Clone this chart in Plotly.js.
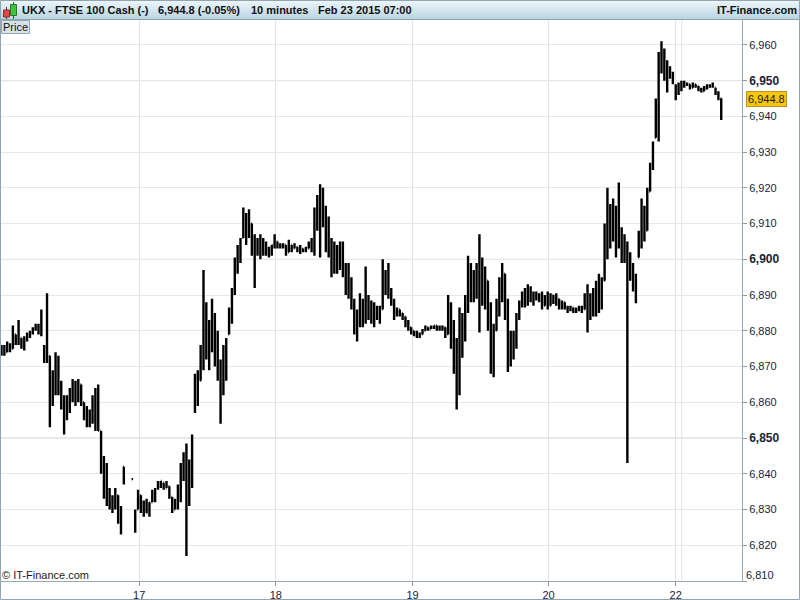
<!DOCTYPE html>
<html>
<head>
<meta charset="utf-8">
<script src="https://cdn.plot.ly/plotly-3.0.1.min.js"></script>
<style>
html,body{margin:0;padding:0;background:#fff;}
#chart{width:800px;height:600px;}
</style>
</head>
<body>
<div id="chart"></div>
<script>
// ---- Data: 30-minute OHLC bars, FTSE 100 Cash (UKX), Feb 16 - Feb 23 2015 ----
const low = [
6873,6873,6874,6874,6875,6876,6876,6875,6874.5,6877,6878,6879,6880,6879,6878.5,6871,6871,6853,6859,6862,6862,6858,6851,6855,6857,6860,6859,6860,6859,6855,6853,6853,6854,6852,6852,6840,6833,6831,6830,6829,6830,6826,6823,6837,null,null,6838.5,6823.5,
6830,6829,6828,6829,6828,6832,6832,6835.5,6836,6835.5,6836,6833,6829,6830,6830,6832,6838,6817,6831,6836,6857,6859,6866,6869,6872,6869,6874,6870,6866,6854,6862,6866,6879,6882,6890,6896,6899,6906,6904,6906,6901,6892,6901,6900,6901,6901,6900.5,6901,
6903,6903,6903,6903,6901,6902,6902,6903,6902,6901.5,6902,6902,6903,6902,6901,6908,6900.5,6909,6902,6900.5,6895,6896,6896,6897,6895,6890,6889,6886,6879,6877,6881,6881,6882,6883,6882,6881,6883,6882,6886,6890,6889,6887,6883,6884,6884,6883,6881,6880,
6879,6878.5,6878,6878,6879,6880,6880,6880.5,6880.5,6880,6880,6880,6878,6879,6875,6868,6858,6862,6872.5,6877,6885,6888,6888,6889,6879.5,6887,6886,6880,6868,6867,6880,6884,6888,6883,6868.5,6870,6872,6875,6883,6886.5,6886.5,6887,6888,6887,6888.5,6888,6886,6887,
6886,6887,6887.5,6887,6886,6886,6886,6885,6885.5,6885,6885,6885.5,6885,6886,6879.5,6883,6884,6884,6885,6886,6894,6900,6903,6905,6900.5,6903,6899,6899,6843,6894,6891,6887.7,6900.5,6903,6905,6908,6919,6925,6934,6933,6952,6950,6946.7,6950.5,6949,
6944.5,6946,6947,6948,6948.5,6947.5,6948,6948,6947,6946.7,6947,6947.5,6948,6948,6946,6944.5,6939
];
const high = [
6876,6876,6877,6876.5,6881.5,6879,6883,6878,6878.5,6879.5,6880,6881,6882,6882,6886,6876,6890.5,6873,6869,6874,6873,6866,6862,6862,6864,6866.5,6866,6866.5,6865,6860,6859,6858,6862,6864,6865,6852,6845,6843,6836,6834,6836,6834,6831,6842,null,null,6838.5,6830,
6835.5,6834,6832.5,6833,6832,6835.5,6836,6838,6838,6837.5,6838,6836.5,6833.5,6833,6837,6843,6846,6848.5,6844,6851,6868,6869,6876,6897,6888,6883,6889,6885,6880,6872,6876,6878,6886.5,6892,6900.5,6904,6906,6914.5,6913,6914,6910,6907,6906,6907,6906,6905,6903.5,6904,
6907,6905,6904.5,6904.5,6904,6905.5,6904,6904.5,6903.5,6904,6903,6903.5,6905,6906,6914.5,6918,6921,6920,6915,6912,6906,6905,6904,6905,6905,6899,6899,6895,6889,6886,6890.5,6889,6898,6890,6888.5,6888,6887,6887,6900,6897,6899,6892,6889,6886.5,6886,6885,6884,6883,
6881,6880,6880,6879.5,6880.5,6881.5,6881,6881.5,6881.5,6881.5,6881.5,6881.5,6881,6890,6888,6883,6878,6886.5,6885,6890,6901,6899,6897,6899,6907,6900.5,6898,6894,6888,6882,6889,6895,6899,6896,6889,6880,6880,6885,6888.5,6891,6892,6893,6892.5,6891,6891,6890.5,6891,6890,
6891,6890.5,6890,6890.5,6889,6888.5,6888,6887,6887,6886.5,6886.5,6887,6887,6890.5,6893,6890.5,6892,6894,6896,6895,6910,6920,6915.5,6917,6915,6921.5,6909,6907,6905,6902,6899,6896,6908,6917,6915,6920,6927,6933,6945,6958,6961,6959,6955.7,6954,6952.5,
6949,6949.5,6950,6950,6949.5,6949,6949.5,6949,6948.5,6948,6948.5,6949,6949,6949.5,6948,6947,6945
];
const open = [
6874,6875,6874,6876,6875,6879,6877,6878,6876,6878,6879,6879.5,6880.5,6881,6880,6875,6872,6873,6862,6866,6870,6864,6860,6858,6860,6862,6864,6861,6865,6860,6857,6855,6857,6860,6856,6852,6843,6836,6833,6832,6831,6834,6828,6842,null,null,6838.5,6824,
6830,6834,6830,6831,6829,6832,6835,6836,6837,6837.5,6836,6836.5,6833.5,6830,6832,6836,6840,6844,6835,6842,6858,6865,6866,6874,6878,6876,6880,6884,6872,6868,6866,6874,6879,6885,6891,6898,6902,6906,6911,6908,6910,6903,6904,6902,6905,6903,6902,6903,
6904,6905,6904,6903.5,6904,6902,6904,6903,6903.5,6902.5,6903,6902.5,6903,6904,6905,6912,6915,6917,6911,6906,6903,6899,6902,6898,6903,6897,6893,6892,6888,6881,6884,6887,6884,6886,6885,6884,6886,6884,6886,6895,6892,6890,6888,6885,6886,6885,6884,6882,
6881,6880,6879,6878.5,6879,6880,6881,6880.5,6881,6881.5,6881,6880.5,6881,6879,6886,6878,6872,6865,6880,6878,6888,6894,6892,6895,6893,6898,6890,6894,6884,6872,6880,6887,6893,6896,6886,6872,6876,6878,6884,6887,6890,6888,6892,6889,6890,6889,6889.5,6887,
6889,6887,6890,6888,6889,6887,6888,6886.5,6886,6886.5,6885.5,6886,6886.5,6886,6889,6885,6888,6886,6891,6888,6894,6906,6910,6908,6913,6904,6908,6902,6904,6898,6896,6893,6900.5,6906,6910,6908,6919,6926,6934,6943,6955,6956,6952,6953,6951,
6946,6947,6948,6949.5,6949,6949,6948,6949,6948.5,6947.5,6947,6948,6948.5,6948.5,6948,6946.5,6945
];
const close = [
6875,6874,6876,6875,6880,6877,6878,6876,6878,6879,6879.5,6880.5,6881,6880,6879,6872,6873,6862,6866,6870,6864,6860,6858,6860,6862,6864,6861,6865,6860,6857,6855,6857,6860,6856,6852,6843,6836,6833,6832,6831,6834,6828,6824,6838,null,null,6838.5,6829,
6834,6830,6831,6829,6832,6835,6833,6837,6838,6836,6837,6834,6830,6832,6836,6840,6844,6835,6842,6850,6865,6862,6874,6878,6876,6880,6884,6872,6868,6866,6874,6877,6885,6891,6898,6902,6905,6911,6908,6910,6903,6904,6902,6905,6903,6902,6903,6904,
6905,6904,6903.5,6904,6902,6904,6903,6904,6902.5,6903,6902.5,6903,6904,6905,6912,6915,6917,6911,6906,6903,6899,6902,6898,6903,6897,6893,6892,6888,6881,6884,6887,6884,6886,6885,6884,6886,6884,6886,6895,6892,6890,6888,6885,6886,6885,6884,6882,6881,
6880,6879,6878.5,6879,6880,6881,6880.5,6881,6881.5,6881,6880.5,6881,6879,6886,6878,6872,6865,6880,6878,6888,6894,6892,6895,6893,6898,6890,6894,6884,6872,6880,6887,6893,6896,6886,6872,6876,6878,6884,6887,6890,6888,6892,6889,6890,6889,6889.5,6887,6889,
6887,6890,6888,6889,6887,6888,6886.5,6886,6886.5,6885.5,6886,6886.5,6886,6889,6885,6888,6886,6891,6888,6894,6906,6910,6908,6913,6904,6908,6902,6904,6898,6896,6893,6895,6906,6910,6908,6918,6926,6932,6943,6955,6956,6952,6953,6951,6950,
6947,6948,6949.5,6949,6949,6948,6949,6948.5,6947.5,6947,6948,6948.5,6948.5,6949,6946.5,6945,6944.8
];
// first bar of each day label and its text
const dayStartBar = [48.4, 96.4, 144.5, 192.3, 237];
const dayLabels = ['17', '18', '19', '20', '22'];
const yTicks = [6810,6820,6830,6840,6850,6860,6870,6880,6890,6900,6910,6920,6930,6940,6950,6960];
const majorTicks = [6850, 6900, 6950];
const lastPrice = 6944.8;
const headerTitle = 'UKX - FTSE 100 Cash (-)';
const headerQuote = '6,944.8 (-0.05%)';
const headerPeriod = '10 minutes';
const headerDate = 'Feb 23 2015 07:00';

// ---- layout helpers (pixel -> paper) ----
const ML = 1, MR = 58, MT = 20, MB = 19, WID = 800, HEI = 600;
const PW = WID - ML - MR, PH = HEI - MT - MB;
const PX = p => (p - ML) / PW;
const PY = p => (HEI - MB - p) / PH;

const barIndex = [];
for (let i = 0; i < high.length; i++) barIndex.push(i);

const fmt = v => v.toLocaleString('en-US', {minimumFractionDigits: 0});
const tickText = yTicks.map(v => {
  if (v === 6810) return '';
  const s = fmt(v);
  return majorTicks.includes(v) ? '<b><span style="font-size:12px">' + s + '</span></b>' : s;
});

const trace = {
  type: 'ohlc',
  x: barIndex, open: open, high: high, low: low, close: close,
  increasing: {line: {color: '#000000', width: 2.4}},
  decreasing: {line: {color: '#000000', width: 2.4}},
  tickwidth: 0.25,
  hoverinfo: 'skip',
  showlegend: false
};

const shapes = [];
// header gradient
const c0 = [236, 247, 251], c1 = [188, 213, 225];
for (let i = 0; i < 19; i++) {
  const t = i / 18;
  const c = c0.map((a, j) => Math.round(a + (c1[j] - a) * t));
  shapes.push({type: 'rect', xref: 'paper', yref: 'paper', x0: PX(0), x1: PX(800), y0: PY(i), y1: PY(i + 1),
    fillcolor: 'rgb(' + c.join(',') + ')', line: {width: 0}, layer: 'above'});
}
shapes.push({type: 'line', xref: 'paper', yref: 'paper', x0: PX(0), x1: PX(800), y0: PY(19.5), y1: PY(19.5),
  line: {color: '#8fa3ae', width: 1}});
// major horizontal gridlines
majorTicks.forEach(v => shapes.push({type: 'line', xref: 'paper', yref: 'y', x0: 0, x1: 1, y0: v, y1: v,
  line: {color: '#cfcfcf', width: 1}, layer: 'below'}));
// extra vertical gridline next to "22"
shapes.push({type: 'line', xref: 'x', yref: 'paper', x0: 239.1, x1: 239.1, y0: 0, y1: 1,
  line: {color: '#e2e2e2', width: 1}, layer: 'below'});
// candle icon
shapes.push({type: 'line', xref: 'paper', yref: 'paper', x0: PX(6.5), x1: PX(6.5), y0: PY(7), y1: PY(19), line: {color: '#7a2020', width: 1}});
shapes.push({type: 'rect', xref: 'paper', yref: 'paper', x0: PX(3.5), x1: PX(9.5), y0: PY(10), y1: PY(17), fillcolor: '#e0484a', line: {color: '#8a2a2a', width: 1}});
shapes.push({type: 'line', xref: 'paper', yref: 'paper', x0: PX(13.5), x1: PX(13.5), y0: PY(2), y1: PY(19), line: {color: '#1f6a1f', width: 1}});
shapes.push({type: 'rect', xref: 'paper', yref: 'paper', x0: PX(10.5), x1: PX(16.5), y0: PY(4.5), y1: PY(15.5), fillcolor: '#3fc43f', line: {color: '#257a25', width: 1}});
// "Price" box
shapes.push({type: 'rect', xref: 'paper', yref: 'paper', x0: PX(1.5), x1: PX(29.5), y0: PY(20.5), y1: PY(33.5),
  fillcolor: '#d6e2ea', line: {color: '#93a6b2', width: 1}});
// outer frame
shapes.push({type: 'rect', xref: 'paper', yref: 'paper', x0: PX(0.5), x1: PX(799.5), y0: PY(0.5), y1: PY(599.5),
  fillcolor: 'rgba(0,0,0,0)', line: {color: '#93a4b0', width: 1}});

const hFont = {family: 'Liberation Sans, Arial, sans-serif', size: 11, color: '#111111'};
const hb = t => '<b>' + t + '</b>';
const ann = (px, py, text, font, xanchor) => ({xref: 'paper', yref: 'paper', x: PX(px), y: PY(py), text: text,
  showarrow: false, xanchor: xanchor || 'left', yanchor: 'middle', font: font, borderpad: 0});
const annotations = [
  ann(21, 10, hb(headerTitle), hFont),
  ann(157, 10, hb(headerQuote), hFont),
  ann(250, 10, hb(headerPeriod), hFont),
  ann(317, 10, hb(headerDate), hFont),
  ann(798, 10, hb('IT-Finance.com'), hFont, 'right'),
  ann(2, 27, 'Price', {family: 'Liberation Sans, Arial, sans-serif', size: 11, color: '#111111'}),
  ann(1, 575, '© IT-Finance.com', {family: 'Liberation Sans, Arial, sans-serif', size: 11, color: '#1a1a1a'}),
  ann(745, 575, '6,810', {family: 'Liberation Sans, Arial, sans-serif', size: 11, color: '#1a2436'}),
  {xref: 'paper', yref: 'y', x: PX(746), y: lastPrice, text: lastPrice.toLocaleString('en-US', {minimumFractionDigits: 1}),
   showarrow: false, xanchor: 'left', yanchor: 'middle', bgcolor: '#f6c60e', bordercolor: '#b89520', borderwidth: 1, borderpad: 1,
   font: {family: 'Liberation Sans, Arial, sans-serif', size: 11, color: '#222222'}}
];

const layout = {
  width: WID, height: HEI,
  margin: {l: ML, r: MR, t: MT, b: MB, pad: 0},
  paper_bgcolor: '#ffffff', plot_bgcolor: '#ffffff',
  showlegend: false,
  dragmode: false,
  xaxis: {
    type: 'linear', range: [-0.18, 260.3], fixedrange: true,
    rangeslider: {visible: false},
    tickmode: 'array', tickvals: dayStartBar, ticktext: dayLabels,
    ticks: 'outside', ticklen: 4, tickcolor: '#8d9ba6',
    showgrid: true, gridcolor: '#e2e2e2', gridwidth: 1,
    showline: true, linecolor: '#9aa8b3', linewidth: 1, zeroline: false,
    tickfont: {family: 'Liberation Sans, Arial, sans-serif', size: 11, color: '#1a2436'}
  },
  yaxis: {
    side: 'right', range: [6810, 6966.97], fixedrange: true,
    tickmode: 'array', tickvals: yTicks, ticktext: tickText,
    ticks: 'outside', ticklen: 4, tickcolor: '#8d9ba6',
    showgrid: true, gridcolor: '#e7e7e7', gridwidth: 1,
    showline: true, linecolor: '#9aa8b3', linewidth: 1, zeroline: false,
    tickfont: {family: 'Liberation Sans, Arial, sans-serif', size: 11, color: '#1a2436'}
  },
  shapes: shapes,
  annotations: annotations
};

Plotly.newPlot('chart', [trace], layout, {displayModeBar: false, staticPlot: true});
</script>
</body>
</html>
